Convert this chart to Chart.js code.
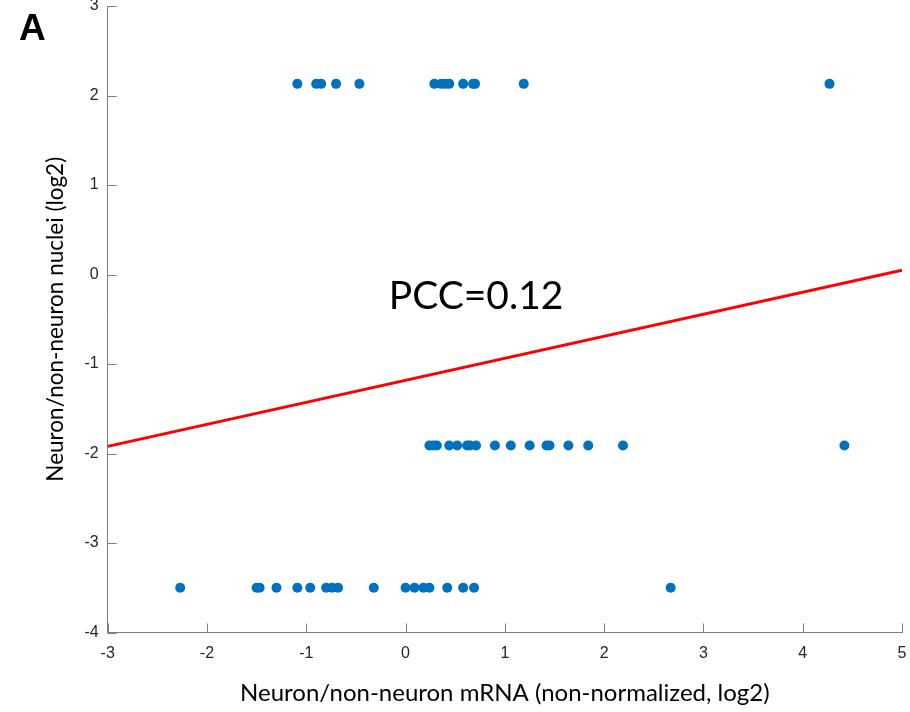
<!DOCTYPE html>
<html>
<head>
<meta charset="utf-8">
<script src="https://cdn.jsdelivr.net/npm/chart.js@4.4.1/dist/chart.umd.min.js"></script>
<style>
  html, body { margin: 0; padding: 0; background: #fff; }
  #wrap { width: 910px; height: 712px; }
</style>
</head>
<body>
<div id="wrap"><canvas id="scatter" width="910" height="712"></canvas></div>
<script>
// values
const topX = [-1.09, -0.90, -0.85, -0.70, -0.465, 0.29, 0.36, 0.40, 0.44, 0.58, 0.68, 0.70, 1.19, 4.27];
const midX = [0.24, 0.28, 0.315, 0.44, 0.52, 0.62, 0.65, 0.71, 0.90, 1.06, 1.25, 1.42, 1.45, 1.64, 1.84, 2.19, 4.42];
const botX = [-2.27, -1.50, -1.47, -1.30, -1.09, -0.96, -0.80, -0.74, -0.68, -0.32, 0.0, 0.09, 0.18, 0.24, 0.42, 0.58, 0.69, 2.67];
const rowY = [2.13, -1.91, -3.50];

const fitX = [-3, 5];
const fitY = [-1.92, 0.047];

const xTicks = [-3, -2, -1, 0, 1, 2, 3, 4, 5];
const yTicks = [-4, -3, -2, -1, 0, 1, 2, 3];

const pccLabel = "PCC=0.12";
const pccPos = [0.71, -0.38];

const dotColor = "#0072BD";
const axisColor = "#7d7d7d";
const labelFont = "'Liberation Sans Narrow', 'Liberation Sans', Arial, sans-serif";

function toPoints(xs, y) {
    return xs.map((x) => ({ x: x, y: y }));
}

// ticks pointing into the plot, the way matlab draws them
const inwardTicks = {
    id: "inwardTicks",
    afterDraw(chart) {
        const c = chart.ctx;
        const xs = chart.scales.x;
        const ys = chart.scales.y;
        const area = chart.chartArea;
        c.save();
        c.strokeStyle = axisColor;
        c.lineWidth = 1;
        c.beginPath();
        xTicks.forEach((v) => {
            const px = Math.round(xs.getPixelForValue(v)) + 0.5;
            c.moveTo(px, area.bottom);
            c.lineTo(px, area.bottom - 9);
        });
        yTicks.forEach((v) => {
            const py = Math.round(ys.getPixelForValue(v)) + 0.5;
            c.moveTo(area.left, py);
            c.lineTo(area.left + 9, py);
        });
        c.stroke();

        // correlation label
        c.fillStyle = "#000";
        c.font = "39px Lato, 'Open Sans', sans-serif";
        c.textAlign = "center";
        c.textBaseline = "alphabetic";
        c.fillText(pccLabel, xs.getPixelForValue(pccPos[0]), ys.getPixelForValue(pccPos[1]));

        // panel letter
        c.font = "bold 37px 'Liberation Sans', Arial, sans-serif";
        c.textAlign = "left";
        c.fillText("A", 19, 40);
        c.restore();
    }
};

const dotStyle = {
    type: "scatter",
    backgroundColor: dotColor,
    borderWidth: 0,
    pointRadius: 5,
    pointHoverRadius: 5,
};

new Chart(document.getElementById("scatter"), {
    type: "scatter",
    data: {
        datasets: [
            Object.assign({ label: "top", data: toPoints(topX, rowY[0]) }, dotStyle),
            Object.assign({ label: "middle", data: toPoints(midX, rowY[1]) }, dotStyle),
            Object.assign({ label: "bottom", data: toPoints(botX, rowY[2]) }, dotStyle),
            {
                type: "line",
                label: "fit",
                data: fitX.map((x, i) => ({ x: x, y: fitY[i] })),
                borderColor: "#ff0000",
                borderWidth: 3,
                pointRadius: 0,
                fill: false,
            },
        ]
    },
    options: {
        responsive: false,
        animation: false,
        layout: { padding: { top: 6, right: 8, left: 0, bottom: 0 } },
        plugins: {
            legend: { display: false },
            tooltip: { enabled: false },
        },
        scales: {
            x: {
                type: "linear",
                min: -3,
                max: 5,
                afterBuildTicks: (scale) => { scale.ticks = xTicks.map((v) => ({ value: v })); },
                afterFit: (scale) => {
                    scale.height = 79.5;
                    scale.paddingLeft = 0;
                    scale.paddingRight = 0;
                },
                grid: { display: false, drawTicks: false },
                border: { display: true, color: axisColor, width: 1 },
                ticks: {
                    color: "#262626",
                    padding: 11,
                    font: { family: labelFont, size: 16 },
                },
                title: {
                    display: true,
                    text: "Neuron/non-neuron mRNA (non-normalized, log2)",
                    color: "#000",
                    font: { family: "Lato, 'Open Sans', sans-serif", size: 24 },
                    padding: { top: 0, bottom: 4 },
                },
            },
            y: {
                type: "linear",
                min: -4,
                max: 3,
                afterBuildTicks: (scale) => { scale.ticks = yTicks.map((v) => ({ value: v })); },
                afterFit: (scale) => {
                    scale.width = 107.7;
                    scale.paddingTop = 0;
                    scale.paddingBottom = 0;
                },
                grid: { display: false, drawTicks: false },
                border: { display: true, color: axisColor, width: 1 },
                ticks: {
                    color: "#262626",
                    padding: 9,
                    font: { family: labelFont, size: 16 },
                },
                title: {
                    display: true,
                    text: "Neuron/non-neuron nuclei (log2)",
                    color: "#000",
                    font: { family: "Lato, 'Open Sans', sans-serif", size: 22.5 },
                    padding: { top: 42, bottom: 0 },
                },
            },
        },
    },
    plugins: [inwardTicks],
});
</script>
</body>
</html>
